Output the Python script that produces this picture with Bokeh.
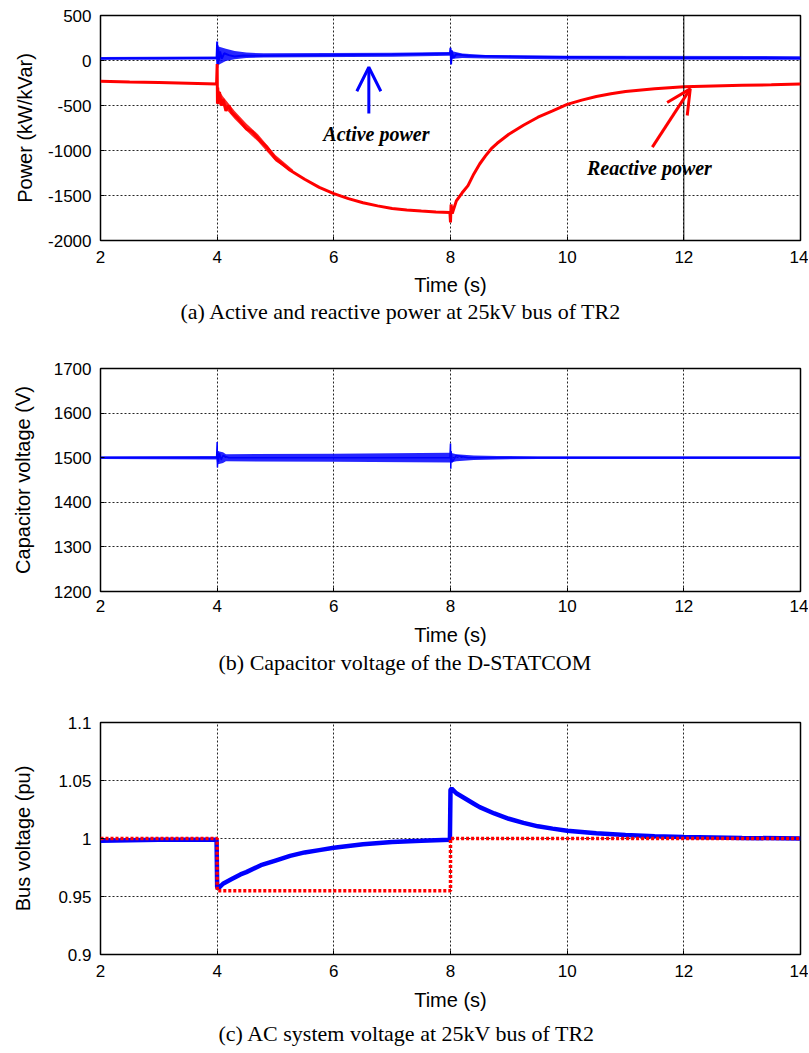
from bokeh.plotting import figure
from bokeh.models import Range1d, FixedTicker, Span, Arrow, OpenHead, Label, Title
from bokeh.layouts import column
from bokeh.embed import file_html
from bokeh.resources import INLINE

BLUE = "#0000ff"
RED = "#ff0000"

# ---------------- shared x axis ----------------
x_ticks = [2, 4, 6, 8, 10, 12, 14]
x_tick_labels = ["2", "4", "6", "8", "10", "12", "14"]

# ---------------- panel (a): power ----------------
a_y_ticks = [-2000, -1500, -1000, -500, 0, 500]
a_y_tick_labels = ["-2000", "-1500", "-1000", "-500", "0", "500"]

p_time = [2.0, 2.5, 3.0, 3.5, 3.99, 4.0, 4.003, 4.008, 4.013, 4.02, 4.03, 4.05, 4.08,
          4.12, 4.2, 4.3, 4.45, 4.6, 5.0, 5.5, 6.0, 6.5, 7.0, 7.5, 7.99, 8.0, 8.01,
          8.02, 8.05, 8.1, 8.3, 9.0, 10.0, 11.0, 12.0, 13.0, 14.0]
p_active = [22, 25, 24, 28, 28, 210, -80, 170, -40, 130, 0, 100, 20, 80, 60, 45, 55, 52,
            55, 58, 60, 64, 66, 72, 78, 140, -45, 110, 30, 70, 52, 45, 38, 32, 28, 28, 25]
p_band_time = [2.0, 3.99, 4.0, 4.05, 4.15, 4.3, 4.5, 4.8, 7.0, 7.99, 8.0, 8.05, 8.2,
               8.6, 10.0, 14.0]
p_band_hi = [40, 45, 160, 150, 130, 105, 88, 80, 86, 94, 120, 100, 78, 62, 54, 48]
p_band_lo = [8, 10, -60, -40, -5, 15, 28, 32, 42, 52, 0, 20, 28, 22, 12, 8]

q_time = [2.0, 2.5, 3.0, 3.5, 3.99, 4.0, 4.005, 4.01, 4.02, 4.04, 4.07, 4.1, 4.15, 4.2,
          4.25, 4.35, 4.5, 4.6, 4.75, 4.85, 5.0, 5.25, 5.5, 5.75, 6.0, 6.25, 6.5, 6.75,
          7.0, 7.25, 7.5, 7.75, 7.99, 8.0, 8.01, 8.03, 8.1, 8.2, 8.3, 8.4, 8.5, 8.6,
          8.7, 8.8, 8.9, 9.0, 9.25, 9.5, 9.75, 10.0, 10.25, 10.5, 10.75, 11.0, 11.5,
          12.0, 12.5, 13.0, 13.5, 14.0]
q_reactive = [-230, -238, -245, -252, -262, -40, -480, -300, -450, -350, -500, -430,
              -560, -500, -580, -640, -760, -790, -900, -960, -1090, -1220, -1320,
              -1410, -1480, -1535, -1580, -1615, -1645, -1660, -1672, -1682, -1690,
              -1800, -1600, -1700, -1560, -1470, -1390, -1260, -1150, -1060, -980, -920,
              -870, -820, -720, -630, -560, -488, -440, -400, -370, -345, -315, -292,
              -282, -276, -270, -262]
q_band_time = [4.0, 4.1, 4.3, 4.5, 4.7, 5.0, 5.3]
q_band_hi = [-300, -400, -560, -700, -820, -1050, -1215]
q_band_lo = [-480, -500, -650, -780, -900, -1120, -1250]

# annotation arrows (data units)
active_arrow = dict(x0=6.6, y0=-590, x1=6.6, y1=-75)
reactive_arrow = dict(x0=11.46, y0=-963, x1=12.11, y1=-315)
active_label = dict(x=6.73, y=-819, text="Active power")
reactive_label = dict(x=11.41, y=-1193, text="Reactive power")
marker_line_time = 12

# ---------------- panel (b): capacitor voltage ----------------
b_y_ticks = [1200, 1300, 1400, 1500, 1600, 1700]
b_y_tick_labels = ["1200", "1300", "1400", "1500", "1600", "1700"]
v_time = [2.0, 3.99, 4.0, 4.005, 4.01, 4.02, 4.04, 4.07, 4.1, 4.2, 6.0, 7.99, 8.0,
          8.005, 8.01, 8.03, 8.1, 8.3, 8.6, 9.0, 14.0]
v_cap = [1500, 1500, 1535, 1478, 1515, 1490, 1510, 1495, 1505, 1500, 1500, 1500, 1532,
         1475, 1515, 1490, 1505, 1500, 1500, 1500, 1500]
v_band_time = [2.0, 3.99, 4.0, 4.1, 4.15, 6.0, 7.99, 8.0, 8.1, 8.4, 8.8, 9.5, 14.0]
v_band_hi = [1503, 1504, 1515, 1512, 1508, 1509, 1511, 1511, 1508, 1505, 1504, 1503, 1503]
v_band_lo = [1497, 1496, 1485, 1488, 1492, 1491, 1489, 1489, 1492, 1495, 1496, 1497, 1497]

# ---------------- panel (c): bus voltage ----------------
c_y_ticks = [0.9, 0.95, 1.0, 1.05, 1.1]
c_y_tick_labels = ["0.9", "0.95", "1", "1.05", "1.1"]
bus_time = [2.0, 3.0, 3.99, 4.0, 4.02, 4.1, 4.25, 4.4, 4.5, 4.75, 5.0, 5.25, 5.5, 5.75,
            6.0, 6.5, 7.0, 7.5, 7.99, 8.0, 8.02, 8.1, 8.25, 8.4, 8.5, 8.75, 9.0, 9.25,
            9.5, 9.75, 10.0, 10.5, 11.0, 11.5, 12.0, 13.0, 14.0]
bus_with = [0.998, 0.999, 0.999, 0.958, 0.957, 0.961, 0.965, 0.969, 0.971, 0.977, 0.981,
            0.985, 0.988, 0.990, 0.992, 0.995, 0.997, 0.998, 0.999, 1.042, 1.043, 1.039,
            1.0345, 1.030, 1.027, 1.0216, 1.017, 1.0135, 1.0105, 1.0085, 1.0066, 1.0045,
            1.003, 1.002, 1.0014, 1.0005, 1.0]
ref_time = [2.0, 4.0, 4.0, 8.0, 8.0, 14.0]
bus_without = [1.0, 1.0, 0.955, 0.955, 1.0, 1.0]

SANS = "Liberation Sans"
SERIF = "Liberation Serif"


def make_fig(height, top, bottom, yr, yticks, ylabels, ylabel, caption, cap_offset,
             ylabel_standoff, xlabel_standoff, tick_standoff, cap_standoff):
    p = figure(width=808, height=height, output_backend="svg", toolbar_location=None,
               x_range=Range1d(2, 14), y_range=Range1d(*yr),
               min_border_left=100, min_border_right=8, min_border_top=top,
               min_border_bottom=bottom)
    p.background_fill_color = "white"
    p.border_fill_color = "white"
    p.outline_line_color = "black"
    p.outline_line_width = 1.5
    p.xaxis.ticker = FixedTicker(ticks=x_ticks)
    p.xaxis.major_label_overrides = {t: s for t, s in zip(x_ticks, x_tick_labels)}
    p.yaxis.ticker = FixedTicker(ticks=yticks)
    p.yaxis.major_label_overrides = {t: s for t, s in zip(yticks, ylabels)}
    for ax in (p.xaxis[0], p.yaxis[0]):
        ax.axis_line_color = None
        ax.major_tick_in = 4
        ax.major_tick_out = 0
        ax.minor_tick_line_color = None
        ax.major_tick_line_color = "black"
        ax.major_label_text_font = SANS
        ax.major_label_text_font_size = "17px"
        ax.major_label_text_color = "black"
        ax.axis_label_text_font = SANS
        ax.axis_label_text_font_size = "20px"
        ax.axis_label_text_font_style = "normal"
        ax.axis_label_text_color = "black"
    p.xaxis.major_label_standoff = tick_standoff
    p.yaxis.major_label_standoff = 9
    p.xaxis.axis_label = "Time (s)"
    p.xaxis.axis_label_standoff = xlabel_standoff
    p.yaxis.axis_label = ylabel
    p.yaxis.axis_label_standoff = ylabel_standoff
    for g in (p.xgrid[0], p.ygrid[0]):
        g.grid_line_color = "black"
        g.grid_line_dash = "2 2"
        g.grid_line_width = 1
        g.grid_line_alpha = 0.85
    p.ygrid.ticker = FixedTicker(ticks=yticks)
    p.xgrid.ticker = FixedTicker(ticks=x_ticks)
    p.add_layout(Title(text=caption, align="left", offset=cap_offset, text_font=SERIF,
                       text_font_size="22px", text_font_style="normal",
                       text_color="black", standoff=cap_standoff), "below")
    return p


# ---- (a)
pa = make_fig(340, 15, 100, (-2000, 500), a_y_ticks, a_y_tick_labels, "Power (kW/kVar)",
              "(a) Active and reactive power at 25kV bus of TR2", 80, 9, 8, 10, -3)
pa.varea(x=p_band_time, y1=p_band_lo, y2=p_band_hi, fill_color=BLUE, fill_alpha=0.85)
pa.line(p_time, p_active, line_color=BLUE, line_width=2)
pa.varea(x=q_band_time, y1=q_band_lo, y2=q_band_hi, fill_color=RED, fill_alpha=0.85)
pa.line(q_time, q_reactive, line_color=RED, line_width=3)
pa.add_layout(Span(location=marker_line_time, dimension="height", line_color="black",
                   line_width=1))
pa.add_layout(Arrow(end=OpenHead(size=24, line_color=BLUE, line_width=3),
                    x_start=active_arrow["x0"], y_start=active_arrow["y0"],
                    x_end=active_arrow["x1"], y_end=active_arrow["y1"],
                    line_color=BLUE, line_width=3))
pa.add_layout(Arrow(end=OpenHead(size=24, line_color=RED, line_width=3),
                    x_start=reactive_arrow["x0"], y_start=reactive_arrow["y0"],
                    x_end=reactive_arrow["x1"], y_end=reactive_arrow["y1"],
                    line_color=RED, line_width=3))
for lab in (active_label, reactive_label):
    pa.add_layout(Label(x=lab["x"], y=lab["y"], text=lab["text"], text_font=SERIF,
                        text_font_style="bold italic", text_font_size="20px",
                        text_color="black", text_align="center",
                        text_baseline="middle"))

# ---- (b)
pb = make_fig(360, 28, 109, (1200, 1700), b_y_ticks, b_y_tick_labels,
              "Capacitor voltage (V)", "(b) Capacitor voltage of the D-STATCOM", 118, 17,
              9, 8, -1)
pb.varea(x=v_band_time, y1=v_band_lo, y2=v_band_hi, fill_color=BLUE, fill_alpha=0.85)
pb.line(v_time, v_cap, line_color=BLUE, line_width=1.5)

# ---- (c)
pc = make_fig(353, 22, 99, (0.9, 1.1), c_y_ticks, c_y_tick_labels, "Bus voltage (pu)",
              "(c) AC system voltage at 25kV bus of TR2", 118, 21, 9, 10, 11)
pc.line(bus_time, bus_with, line_color=BLUE, line_width=4.5)
pc.line(ref_time, bus_without, line_color=RED, line_width=3.5, line_dash="3 2")

layout = column(pa, pb, pc, spacing=0)
open("out.html", "w").write(file_html(layout, INLINE))
